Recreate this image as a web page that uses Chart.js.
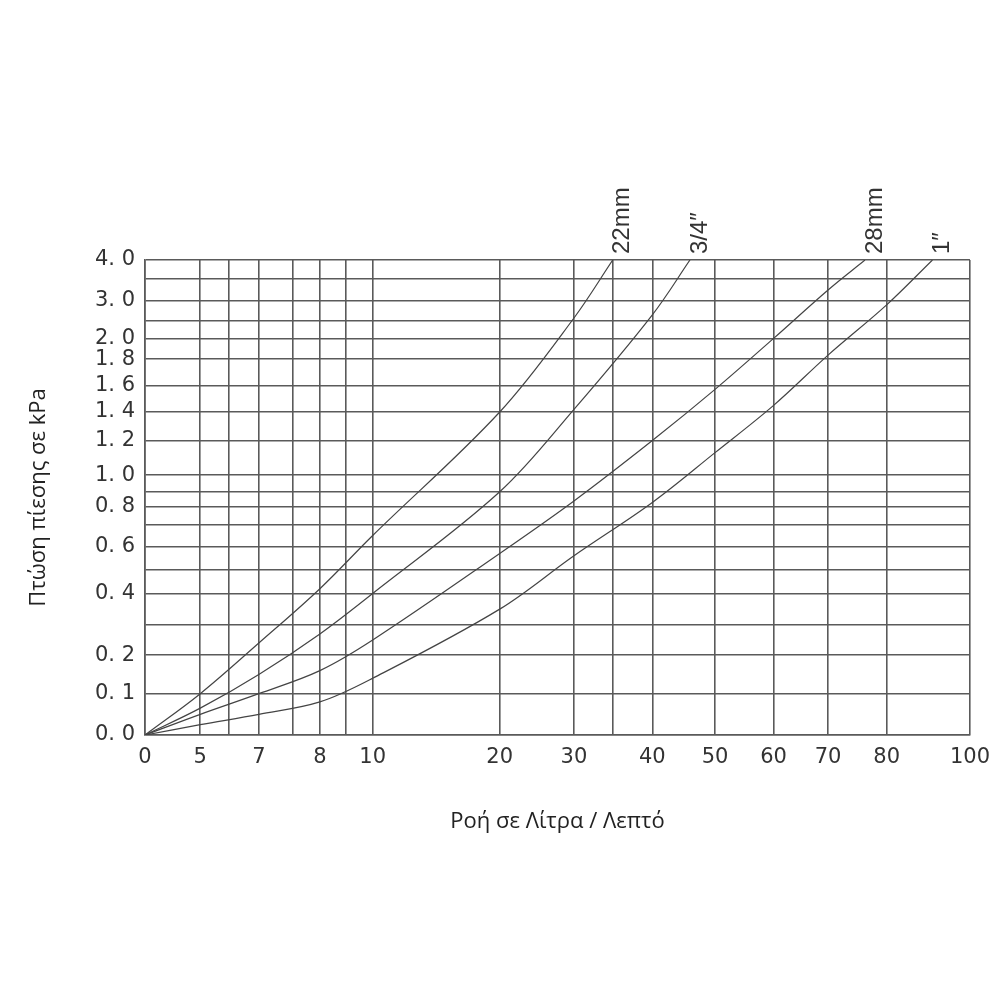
<!DOCTYPE html>
<html>
<head>
<meta charset="utf-8">
<script src="https://cdn.jsdelivr.net/npm/chart.js@4"></script>
<style>
  html, body { margin: 0; padding: 0; background: #fff; }
  canvas { display: block; }
</style>
</head>
<body>
<canvas id="chart" width="1000" height="1000"></canvas>
<script>
// Flow grid (l/min): value and its place along the axis (0..1); '' = unlabeled line
const flowGrid   = [0, 5, 6, 7, 7.5, 8, 9, 10, 20, 30, 35, 40, 50, 60, 70, 80, 100];
const flowPlace  = [0, 0.067, 0.102, 0.138, 0.179, 0.212, 0.244, 0.276, 0.430, 0.520, 0.567, 0.615, 0.691, 0.762, 0.828, 0.899, 1];
const flowLabels = ['0', '5', '', '7', '', '8', '', '10', '20', '30', '', '40', '50', '60', '70', '80', '100'];

// Pressure grid (kPa): value and its place down from the top (0..1)
const kpaGrid   = [4.0, 3.5, 3.0, 2.5, 2.0, 1.8, 1.6, 1.4, 1.2, 1.0, 0.9, 0.8, 0.7, 0.6, 0.5, 0.4, 0.3, 0.2, 0.1, 0.0];
const kpaPlace  = [0, 0.040, 0.086, 0.128, 0.165, 0.209, 0.264, 0.320, 0.380, 0.453, 0.488, 0.520, 0.557, 0.603, 0.652, 0.702, 0.768, 0.832, 0.913, 1];
const kpaLabels = ['4. 0', '', '3. 0', '', '2. 0', '1. 8', '1. 6', '1. 4', '1. 2', '1. 0', '', '0. 8', '', '0. 6', '', '0. 4', '', '0. 2', '0. 1', '0. 0'];

// Pipe curves: flow (l/min) and pressure drop (kPa)
const pipeNames = ['22mm', '3/4\u2033', '28mm', '1\u2033'];
const flow22  = [0, 5, 7, 8, 10, 20, 30, 35];
const kpa22   = [0, 0.10, 0.24, 0.42, 0.65, 1.40, 2.57, 4.0];
const flow34  = [0, 5, 7, 8, 10, 20, 30, 40, 46];
const kpa34   = [0, 0.065, 0.15, 0.27, 0.40, 0.90, 1.42, 2.65, 4.0];
const flow28  = [0, 5, 7, 8, 10, 20, 30, 40, 50, 60, 70, 76.3];
const kpa28   = [0, 0.05, 0.10, 0.16, 0.25, 0.57, 0.84, 1.20, 1.57, 2.0, 3.25, 4.0];
const flow1   = [0, 5, 7, 8, 10, 20, 30, 40, 50, 60, 70, 80, 91];
const kpa1    = [0, 0.025, 0.05, 0.08, 0.14, 0.35, 0.56, 0.83, 1.13, 1.45, 1.84, 2.9, 4.0];

// piecewise-linear lookup between grid lines
function lookup(v, grid, place) {
  for (let i = 0; i < grid.length - 1; i++) {
    const a = grid[i], b = grid[i + 1];
    if ((v >= Math.min(a, b)) && (v <= Math.max(a, b))) {
      return place[i] + (v - a) / (b - a) * (place[i + 1] - place[i]);
    }
  }
  return place[place.length - 1];
}
const toX = f => lookup(f, flowGrid, flowPlace);
const toY = p => 1 - lookup(p, kpaGrid, kpaPlace);

function series(flows, kpas) {
  return flows.map((f, i) => ({ x: toX(f), y: toY(kpas[i]) }));
}

const FONT = "'DejaVu Sans', sans-serif";
const GRID = '#5a5a5a';
const INK = '#333';

const curveLabels = {
  id: 'curveLabels',
  afterDatasetsDraw(chart) {
    const ctx = chart.ctx;
    ctx.save();
    ctx.fillStyle = INK;
    ctx.font = "24px 'Liberation Sans Narrow', 'Liberation Sans', sans-serif";
    ctx.textBaseline = 'middle';
    chart.data.datasets.forEach((ds, i) => {
      const pts = chart.getDatasetMeta(i).data;
      const last = pts[pts.length - 1];
      ctx.save();
      ctx.translate(last.x + 10, last.y - 6);
      ctx.rotate(-Math.PI / 2);
      ctx.textAlign = 'left';
      ctx.fillText(ds.label, 0, 0);
      ctx.restore();
    });
    ctx.restore();
  }
};

const curveSets = [[flow22, kpa22], [flow34, kpa34], [flow28, kpa28], [flow1, kpa1]];

new Chart(document.getElementById('chart').getContext('2d'), {
  type: 'line',
  data: {
    datasets: curveSets.map((c, i) => ({
      label: pipeNames[i],
      data: series(c[0], c[1]),
      borderColor: '#444',
      borderWidth: 1.2,
      pointRadius: 0,
      fill: false,
      tension: 0.35,
    }))
  },
  options: {
    responsive: false,
    animation: false,
    layout: { padding: { top: 260, right: 20, bottom: 161, left: 0 } },
    plugins: { legend: { display: false }, tooltip: { enabled: false } },
    scales: {
      x: {
        type: 'linear', min: 0, max: 1,
        afterBuildTicks: s => { s.ticks = flowPlace.map(v => ({ value: v })); },
        afterFit: s => { s.height = 104; },
        grid: { color: GRID, lineWidth: 1.6, drawTicks: false },
        border: { color: GRID, width: 1.6 },
        ticks: {
          autoSkip: false, maxRotation: 0, padding: 10,
          color: INK, font: { family: FONT, size: 21 },
          callback: (v, i) => flowLabels[i],
        },
        title: {
          display: true, text: 'Ροή σε Λίτρα / Λεπτό',
          color: '#222', font: { family: "'Open Sans', sans-serif", size: 22 },
          padding: { top: 12 },
        }
      },
      y: {
        type: 'linear', min: 0, max: 1,
        afterBuildTicks: s => { s.ticks = kpaPlace.map(v => ({ value: 1 - v })); },
        afterFit: s => { s.width = 145; },
        grid: { color: GRID, lineWidth: 1.6, drawTicks: false },
        border: { color: GRID, width: 1.6 },
        ticks: {
          autoSkip: false, padding: 10,
          color: INK, font: { family: FONT, size: 21 },
          callback: (v, i) => kpaLabels[i],
        },
        title: {
          display: true, text: 'Πτώση πίεσης σε kPa',
          color: '#222', font: { family: "'Open Sans', sans-serif", size: 22 },
          padding: { bottom: 0, top: 26 },
        }
      }
    }
  },
  plugins: [curveLabels]
});
</script>
</body>
</html>
